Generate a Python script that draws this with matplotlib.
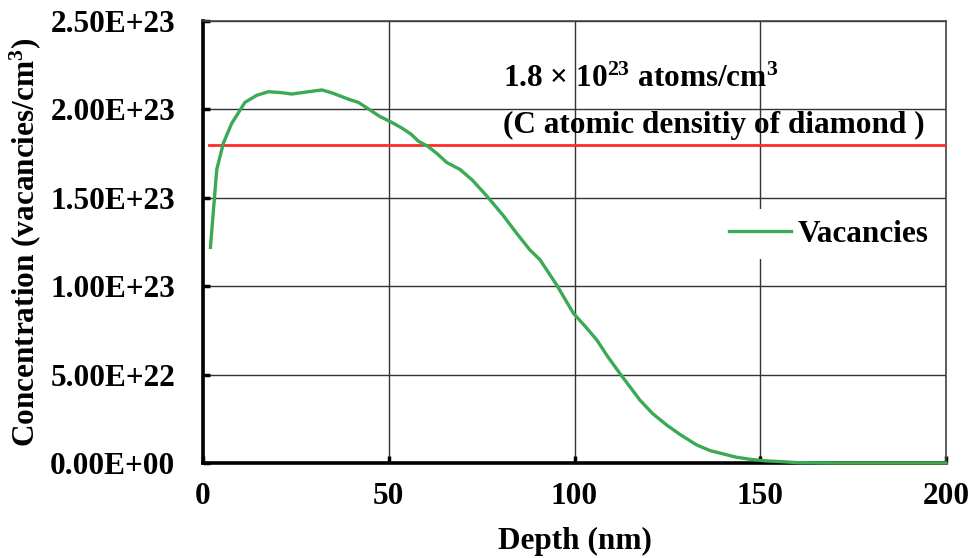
import matplotlib
matplotlib.use("Agg")
import matplotlib.pyplot as plt
from matplotlib.ticker import FuncFormatter

# vacancy profile (depth in nm, concentration in 1e23 /cm3)
depth = [2, 3.7, 5.5, 7.7, 11.3, 14.5, 17.6, 21, 23.9, 28.4, 32.0, 34.5, 36.4,
         39.5, 41.8, 44, 47.6, 50.5, 53.5, 56, 58, 60.6, 63, 65.6, 69.2, 72.5,
         76.4, 80.8, 84.4, 88, 90.7, 95.2, 99.7, 103, 106, 109, 112.2, 117.6,
         121, 124.8, 128.5, 132.9, 136.5, 140.1, 143.5, 147.2, 151.5, 156.2,
         160, 170, 180, 190, 200]
vacancies = [1.22, 1.66, 1.81, 1.92, 2.04, 2.08, 2.10, 2.095, 2.087, 2.10, 2.11,
             2.095, 2.08, 2.055, 2.04, 2.01, 1.96, 1.93, 1.895, 1.86, 1.82,
             1.79, 1.75, 1.70, 1.66, 1.60, 1.51, 1.40, 1.30, 1.205, 1.15,
             1.007, 0.847, 0.77, 0.696, 0.60, 0.507, 0.356, 0.28, 0.215, 0.16,
             0.102, 0.07, 0.051, 0.033, 0.021, 0.012, 0.007, 0.002, 0, 0, 0, 0]
vacancies = [v * 1e23 for v in vacancies]

diamond_density = 1.8e23
density_span = [1.5, 200]
x_ticks = [0, 50, 100, 150, 200]
y_ticks = [0, 0.5e23, 1.0e23, 1.5e23, 2.0e23, 2.5e23]

plt.rcParams['font.family'] = ['Liberation Serif', 'DejaVu Serif']
plt.rcParams['font.weight'] = 'bold'
plt.rcParams['mathtext.fontset'] = 'custom'
plt.rcParams['mathtext.rm'] = 'Liberation Serif:bold'
plt.rcParams['mathtext.bf'] = 'Liberation Serif:bold'
plt.rcParams['mathtext.it'] = 'Liberation Serif:bold'
plt.rcParams['mathtext.default'] = 'bf'

fs = 22.5

fig = plt.figure(figsize=(9.71, 5.58), dpi=100)
ax = fig.add_axes([203 / 971, 1 - 463 / 558, 743 / 971, 442 / 558])

ax.plot(density_span, [diamond_density] * 2, color='#FF2A2A', lw=2.0, zorder=3)
ax.plot(depth, vacancies, color='#3BAA55', lw=2.4, label='Vacancies', zorder=4,
        clip_on=False)

ax.set_xlim(0, 200)
ax.set_ylim(0, 2.5e23)
ax.set_xticks(x_ticks)
ax.set_yticks(y_ticks)
ax.yaxis.set_major_formatter(FuncFormatter(lambda v, p: f"{v:.2E}"))

ax.grid(True, color='#333333', lw=1.0)
ax.set_axisbelow(True)
for side in ['left', 'bottom']:
    ax.spines[side].set_linewidth(2.6)
    ax.spines[side].set_color('black')
for side in ['top', 'right']:
    ax.spines[side].set_linewidth(1.2)
    ax.spines[side].set_color('#444444')

ax.tick_params(axis='both', direction='in', length=5, width=2.5, labelsize=fs)
ax.tick_params(axis='y', pad=20)
ax.tick_params(axis='x', pad=14)

ax.set_xlabel('Depth (nm)', fontsize=fs, fontweight='bold', labelpad=11)
ax.set_ylabel('Concentration (vacancies/cm$^{3}$)', fontsize=fs,
              fontweight='bold', labelpad=5)

ax.text(80.8, 2.17e23, '1.8 × 10$^{23}$ atoms/cm$^{3}$', fontsize=fs,
        fontweight='bold', ha='left', va='center')
ax.text(80.8, 1.91e23, '(C atomic densitiy of diamond )', fontsize=fs,
        fontweight='bold', ha='left', va='center')

leg = ax.legend(loc='center left', bbox_to_anchor=(0.693, 0.518), frameon=True,
                fontsize=fs, handlelength=2.0, handletextpad=0.2,
                borderpad=0.35, borderaxespad=0, fancybox=False)
leg.get_frame().set_edgecolor('none')
leg.get_frame().set_facecolor('white')
leg.get_frame().set_alpha(1)

fig.savefig('out.png', dpi=100)
